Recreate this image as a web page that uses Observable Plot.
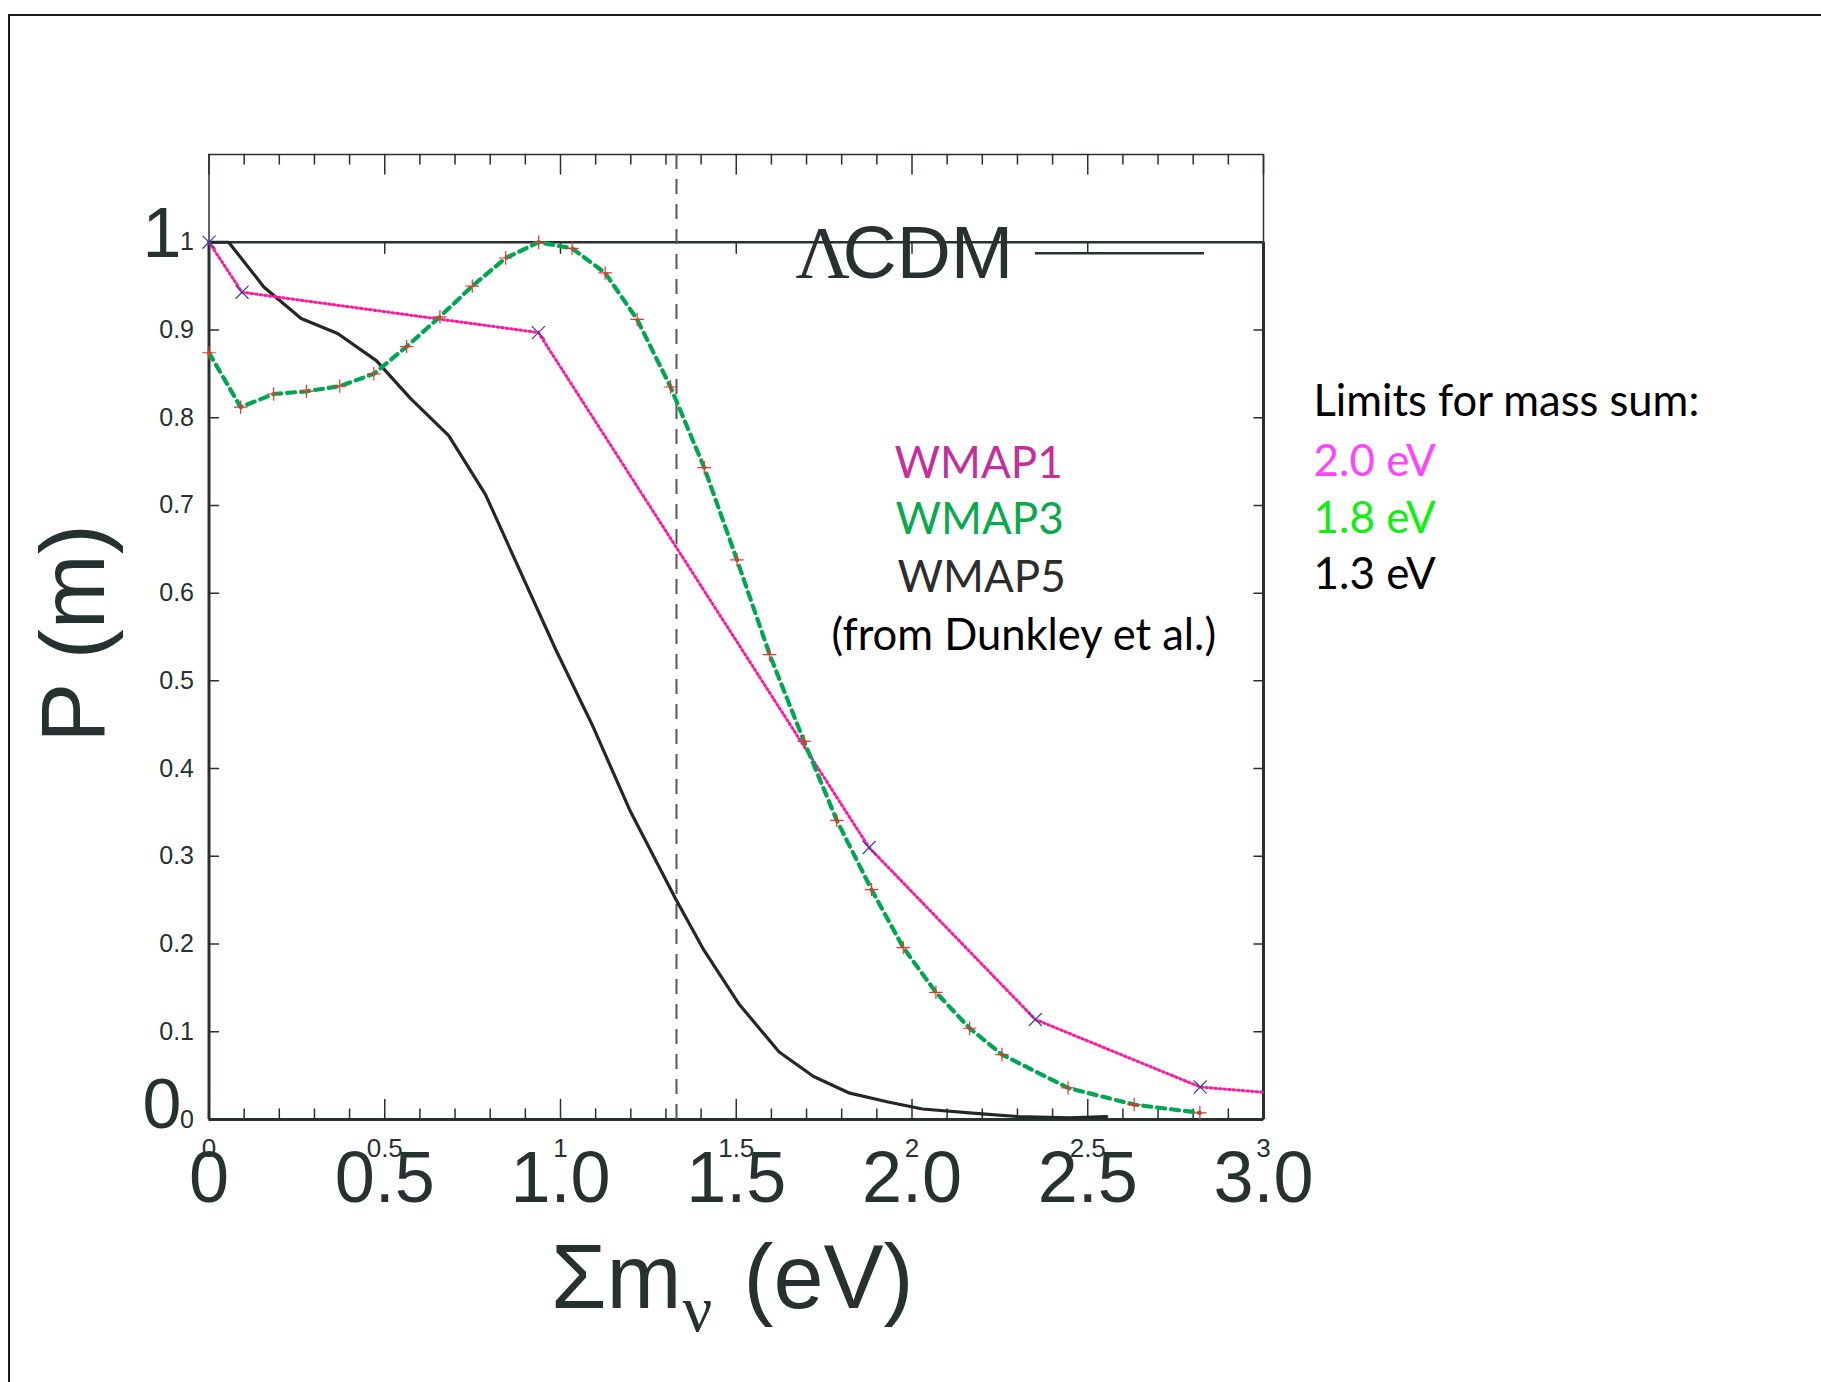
<!DOCTYPE html>
<html><head><meta charset="utf-8">
<script src="https://cdn.jsdelivr.net/npm/d3@7"></script>
<script src="https://cdn.jsdelivr.net/npm/@observablehq/plot@0.6"></script>
<style>
html,body{margin:0;padding:0;background:#fff;}
#wrap{position:relative;width:1821px;height:1382px;overflow:hidden;}
#border{position:absolute;left:8px;top:14px;right:-10px;bottom:-10px;border-top:2px solid #1a1a1a;border-left:2px solid #1a1a1a;pointer-events:none;}
#chart{position:absolute;left:0;top:0;}
</style></head><body>
<div id="wrap"><div id="chart"></div><div id="border"></div></div>
<script>
// ---- data ----
const wmap1X = [0, 0.094, 0.937, 1.878, 2.351, 2.820, 3.0];
const wmap1Y = [1.0, 0.943, 0.897, 0.310, 0.114, 0.037, 0.031];
const wmap1MarkerCount = 6;

const wmap3X = [0, 0.090, 0.184, 0.277, 0.372, 0.469, 0.562, 0.657, 0.749, 0.844, 0.938, 1.033, 1.127, 1.218, 1.313, 1.409, 1.502, 1.595, 1.693, 1.786, 1.885, 1.975, 2.068, 2.164, 2.256, 2.444, 2.632, 2.819];
const wmap3Y = [0.874, 0.812, 0.827, 0.830, 0.836, 0.850, 0.881, 0.915, 0.950, 0.982, 1.000, 0.993, 0.965, 0.912, 0.835, 0.743, 0.638, 0.530, 0.431, 0.341, 0.262, 0.196, 0.145, 0.104, 0.074, 0.036, 0.017, 0.0076];

const wmap5X = [0, 0.056, 0.156, 0.262, 0.366, 0.476, 0.573, 0.682, 0.787, 0.986, 1.09, 1.199, 1.327, 1.408, 1.507, 1.622, 1.72, 1.823, 1.932, 2.03, 2.199, 2.30, 2.449, 2.554];
const wmap5Y = [1.0, 1.0, 0.949, 0.913, 0.896, 0.865, 0.822, 0.7795, 0.712, 0.536, 0.450, 0.351, 0.252, 0.193, 0.132, 0.077, 0.049, 0.030, 0.020, 0.012, 0.0065, 0.0034, 0.002, 0.0034];

const lcdmLevel = [1];
const limitLine = [1.33];

const seriesNames = ["WMAP1", "WMAP3", "WMAP5"];
const sourceNote = "(from Dunkley et al.)";
const limitsTitle = "Limits for mass sum:";
const limitLabels = ["2.0 eV", "1.8 eV", "1.3 eV"];

const xMajorTicks = [0, 0.5, 1, 1.5, 2, 2.5, 3];
const xSmallTickLabels = ["0", "0.5", "1", "1.5", "2", "2.5", "3"];
const xBigTickLabels = ["0", "0.5", "1.0", "1.5", "2.0", "2.5", "3.0"];
const yTicks = [0, 0.1, 0.2, 0.3, 0.4, 0.5, 0.6, 0.7, 0.8, 0.9, 1];
const yTickLabels = ["0", "0.1", "0.2", "0.3", "0.4", "0.5", "0.6", "0.7", "0.8", "0.9", "1"];
const yBigTickLabels = ["0", "1"];
const xMinorTicks = d3.range(1, 30).filter(i => i % 5 !== 0).map(i => i / 10);
const yInnerTicks = [0.1, 0.2, 0.3, 0.4, 0.5, 0.6, 0.7, 0.8, 0.9];

// ---- build tables ----
const wmap1 = wmap1X.map((x, i) => ({x, y: wmap1Y[i]}));
const wmap3 = wmap3X.map((x, i) => ({x, y: wmap3Y[i]}));
const wmap5 = wmap5X.map((x, i) => ({x, y: wmap5Y[i]}));

// ---- layout ----
const W = 1821, H = 1382, ML = 208.5, MR = 558, MT = 154, MB = 263;
const ink = "#263130";
const sans = "'Liberation Sans', Arial, Helvetica, sans-serif";
const serif = "'Liberation Serif', 'Times New Roman', serif";
const gill = "Lato, 'Open Sans', sans-serif";

const tick = (data, opts) => Plot.vector(data, {anchor: "start", r: 0, stroke: ink, strokeWidth: 1.5, ...opts});
const note = (text, px, py, opts) => Plot.text([text], {
  frameAnchor: "top-left", dx: px - ML, dy: py - MT, lineAnchor: "bottom", textAnchor: "start", ...opts
});

const chart = Plot.plot({
  width: W, height: H,
  marginLeft: ML, marginRight: MR, marginTop: MT, marginBottom: MB,
  x: {domain: [0, 3], axis: null, label: null},
  y: {domain: [0, 1.1], axis: null, label: null},
  style: {fontFamily: sans, color: ink, background: "transparent", overflow: "visible"},
  marks: [
    // frame: lower gnuplot box (0..1) thick, upper part thin
    Plot.ruleY([0], {stroke: ink, strokeWidth: 3}),
    Plot.ruleX([0, 3], {y1: 0, y2: 1, stroke: ink, strokeWidth: 3}),
    Plot.ruleX([0, 3], {y1: 1, y2: 1.1, stroke: ink, strokeWidth: 1.5}),
    Plot.ruleY([1.1], {stroke: ink, strokeWidth: 1.5}),
    // ΛCDM reference level
    Plot.ruleY(lcdmLevel, {stroke: ink, strokeWidth: 2.5}),
    // ticks (inward)
    tick(xMinorTicks, {x: d => d, y: 0, length: 10.5, rotate: 0}),
    tick(xMajorTicks, {x: d => d, y: 0, length: 20, rotate: 0}),
    tick(xMinorTicks, {x: d => d, y: 1.1, length: 9.5, rotate: 180}),
    tick(xMajorTicks, {x: d => d, y: 1.1, length: 19.5, rotate: 180}),
    tick(xMajorTicks.slice(1, -1), {x: d => d, y: 1, length: 11, rotate: 180}),
    tick(yInnerTicks, {x: 0, y: d => d, length: 9.5, rotate: 90}),
    tick(yInnerTicks, {x: 3, y: d => d, length: 9.5, rotate: -90}),
    // mass-limit marker line
    Plot.ruleX(limitLine, {y1: 0, y2: 1.1, stroke: "#555", strokeWidth: 2, strokeDasharray: "15,10"}),
    // series
    Plot.line(wmap5, {x: "x", y: "y", stroke: "#222826", strokeWidth: 3.2, strokeLinejoin: "round"}),
    Plot.line(wmap1, {x: "x", y: "y", stroke: "#ff1a9c", strokeWidth: 3, strokeDasharray: "1.6,3"}),
    Plot.line(wmap3, {x: "x", y: "y", stroke: "#00a651", strokeWidth: 4.2, strokeDasharray: "8,6"}),
    Plot.dot(wmap3, {x: "x", y: "y", symbol: "plus", r: 4.4, stroke: "#ff2a2a", strokeWidth: 1.2}),
    Plot.dot(wmap1.slice(0, wmap1MarkerCount), {x: "x", y: "y", symbol: "times", r: 6, stroke: "#3b3ba8", strokeWidth: 1.2}),
    // small tick labels
    Plot.axisX({ticks: xMajorTicks, anchor: "bottom", tickSize: 0, tickPadding: 19, fontSize: 26, fill: ink, label: null,
      tickFormat: d => xSmallTickLabels[xMajorTicks.indexOf(d)]}),
    Plot.axisY({ticks: yTicks, anchor: "left", tickSize: 0, tickPadding: 15, fontSize: 25, fill: ink, label: null,
      tickFormat: d => yTickLabels[yTicks.indexOf(d)]}),
    // big tick labels
    Plot.text(xMajorTicks, {x: d => d, y: 0, text: (d, i) => xBigTickLabels[i], dy: 82, lineAnchor: "bottom",
      fontSize: 72, fill: ink}),
    Plot.text([1], {x: 0, y: d => d, text: () => yBigTickLabels[1], dx: -27.5, dy: 15, textAnchor: "end", lineAnchor: "bottom", fontSize: 70, fill: ink}),
    Plot.text([0], {x: 0, y: d => d, text: () => yBigTickLabels[0], dx: -27.5, dy: 8, textAnchor: "end", lineAnchor: "bottom", fontSize: 70, fill: ink}),
    // axis titles
    Plot.text(["P (m)"], {frameAnchor: "left", dx: -105.5, dy: -3.5, rotate: -90, textAnchor: "middle", lineAnchor: "bottom", fontSize: 90, fill: ink}),
    note("Σm", 681, 1307, {textAnchor: "end", fontSize: 90, fill: ink}),
    note("ν", 682, 1330, {fontSize: 66, fontFamily: serif, fill: ink}),
    note("(eV)", 743, 1307, {fontSize: 90, fill: ink}),
    // ΛCDM key
    note("Λ", 795, 277, {fontSize: 75, fontFamily: serif, fill: ink}),
    note("CDM", 842, 277, {fontSize: 75, fill: ink}),
    Plot.ruleY([0.9875], {x1: 2.351, x2: 2.832, stroke: ink, strokeWidth: 2.5}),
    // series labels
    note(seriesNames[0], 894, 477, {fontSize: 44, fontFamily: gill, fill: "#c4309a"}),
    note(seriesNames[1], 895, 533, {fontSize: 44, fontFamily: gill, fill: "#0aa84f"}),
    note(seriesNames[2], 897, 591, {fontSize: 44, fontFamily: gill, fill: "#2d2d2d"}),
    note(sourceNote, 831, 649, {fontSize: 43.5, fontFamily: gill, fill: "#000"}),
    // limits
    note(limitsTitle, 1313, 415, {fontSize: 43.5, fontFamily: gill, fill: "#000"}),
    note(limitLabels[0], 1313, 475, {fontSize: 44, fontFamily: gill, fill: "#ff44ff"}),
    note(limitLabels[1], 1313, 532, {fontSize: 44, fontFamily: gill, fill: "#11ee11"}),
    note(limitLabels[2], 1313, 588, {fontSize: 44, fontFamily: gill, fill: "#000"})
  ]
});
document.getElementById("chart").appendChild(chart);
</script>
</body></html>
